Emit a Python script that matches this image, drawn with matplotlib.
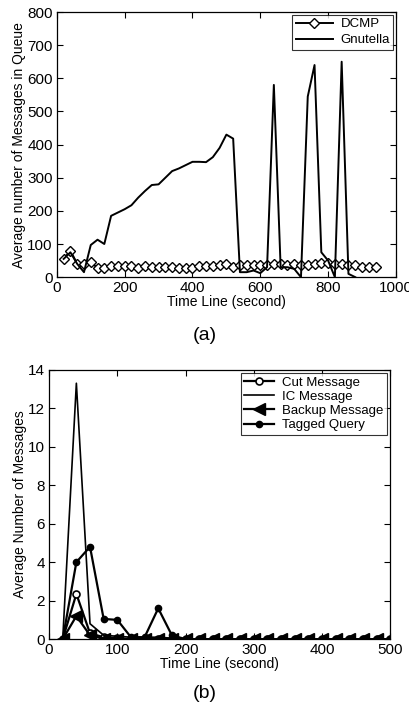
import numpy as np
import matplotlib
matplotlib.use("Agg")
import matplotlib.pyplot as plt

plt.rcParams['font.family'] = ['Liberation Sans', 'DejaVu Sans']
plt.rcParams['xtick.direction'] = 'in'
plt.rcParams['ytick.direction'] = 'in'
plt.rcParams['xtick.top'] = True
plt.rcParams['ytick.right'] = True

# (a) queue length
t_gnu = [20, 40, 60, 80, 100, 120, 140, 160, 180, 200, 220, 240, 260, 280, 300,
         320, 340, 360, 380, 400, 420, 440, 460, 480, 500, 520, 540, 560, 580, 600,
         620, 640, 660, 680, 700, 720, 740, 760, 780, 800, 820, 840, 860, 880]
gnutella = [55, 75, 40, 15, 97, 113, 100, 185, 195, 205, 217, 240, 260, 278, 280,
            300, 320, 328, 338, 348, 348, 347, 362, 390, 430, 418, 15, 15, 20, 12,
            30, 580, 30, 30, 25, 0, 545, 640, 75, 50, 0, 650, 10, 0]
t_dcmp = list(range(20, 941, 20))
dcmp = [55, 80, 40, 40, 45, 28, 28, 35, 35, 35, 35, 28, 35, 30, 30, 30, 32, 28,
        28, 28, 35, 35, 35, 38, 40, 32, 38, 38, 38, 38, 38, 40, 40, 38, 40, 38,
        38, 40, 42, 42, 40, 40, 38, 38, 32, 32, 32]

# (b) message overhead
t_b = list(range(20, 501, 20))
cut_msg = [0, 2.35, 0.3, 0.1, 0.05] + [0] * 20
ic_msg = [0, 13.3, 0.8, 0.2, 0.15, 0.1, 0.1, 0.1, 0.05] + [0] * 16
backup_msg = [0, 1.2, 0.2, 0.02, 0] + [0] * 20
tagged = [0, 4.0, 4.8, 1.05, 1.0, 0.1, 0.1, 1.6, 0.2] + [0] * 16

fig = plt.figure(figsize=(4.09, 7.07), dpi=100)
tfs = 11   # tick labels
lfs = 10   # axis labels

def style_axes(ax):
    ax.tick_params(labelsize=tfs, length=4, width=0.8, pad=3)
    for s in ax.spines.values():
        s.set_linewidth(0.9)

ax1 = fig.add_axes([0.139, 0.608, 0.829, 0.375])
ax1.plot(t_dcmp, dcmp, color='black', lw=1.4, marker='D', ms=5,
         mfc='white', mec='black', mew=1.0, label='DCMP')
ax1.plot(t_gnu, gnutella, color='black', lw=1.4, label='Gnutella')
ax1.set_xlim(0, 1000)
ax1.set_ylim(0, 800)
ax1.set_xticks(range(0, 1001, 200))
ax1.set_yticks(range(0, 801, 100))
style_axes(ax1)
ax1.set_xlabel('Time Line (second)', fontsize=lfs, labelpad=0)
ax1.set_ylabel('Average number of Messages in Queue', fontsize=lfs, labelpad=1)
leg1 = ax1.legend(loc='upper right', fontsize=9.5, frameon=True, fancybox=False,
                  edgecolor='black', borderpad=0.25, labelspacing=0.3,
                  handlelength=2.8, handletextpad=0.6, borderaxespad=0.2)
leg1.get_frame().set_linewidth(0.8)
fig.text(0.5, 1 - 335 / 707, '(a)', ha='center', va='center', fontsize=14)

ax2 = fig.add_axes([0.120, 0.096, 0.834, 0.381])
ax2.plot(t_b, cut_msg, color='black', lw=1.6, marker='o', ms=5,
         mfc='white', mec='black', mew=1.2, label='Cut Message')
ax2.plot(t_b, ic_msg, color='black', lw=1.2, label='IC Message')
ax2.plot(t_b, backup_msg, color='black', lw=1.6, marker='<', ms=8,
         mfc='black', mec='black', label='Backup Message')
ax2.plot(t_b, tagged, color='black', lw=1.6, marker='o', ms=4.5,
         mfc='black', mec='black', label='Tagged Query')
ax2.set_xlim(0, 500)
ax2.set_ylim(0, 14)
ax2.set_xticks(range(0, 501, 100))
ax2.set_yticks(range(0, 15, 2))
style_axes(ax2)
ax2.set_xlabel('Time Line (second)', fontsize=lfs, labelpad=0)
ax2.set_ylabel('Average Number of Messages', fontsize=lfs, labelpad=1)
leg2 = ax2.legend(loc='upper right', fontsize=9.5, frameon=True, fancybox=False,
                  edgecolor='black', borderpad=0.25, labelspacing=0.15,
                  handlelength=2.3, handletextpad=0.6, borderaxespad=0.25)
leg2.get_frame().set_linewidth(0.8)
fig.text(0.5, 1 - 693 / 707, '(b)', ha='center', va='center', fontsize=14)

fig.savefig('out.png', dpi=100)
